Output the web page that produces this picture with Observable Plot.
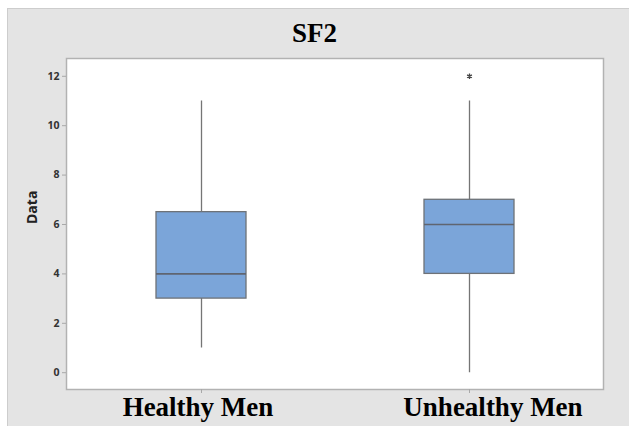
<!DOCTYPE html>
<html>
<head>
<meta charset="utf-8">
<script src="https://cdn.jsdelivr.net/npm/d3@7"></script>
<script src="https://cdn.jsdelivr.net/npm/@observablehq/plot@0.6"></script>
<style>
  html, body { margin: 0; padding: 0; background: #ffffff; }
  #page { position: relative; width: 629px; height: 426px; overflow: hidden; background: #ffffff; }
  #panel { position: absolute; left: 7px; top: 8px; width: 622px; height: 418px; background: #e4e4e4;
           border-top: 1.5px solid #cdcdcd; border-left: 1.5px solid #cdcdcd; box-sizing: border-box; }
  #title { position: absolute; left: 0; top: 20px; width: 629px; text-align: center;
           font-family: "Liberation Serif", "Times New Roman", serif; font-weight: bold; font-size: 27px; line-height: 27px; color: #000; }
  .xlab { position: absolute; top: 394px; width: 240px; text-align: center; white-space: nowrap;
          font-family: "Liberation Serif", "Times New Roman", serif; font-weight: bold; font-size: 27px; line-height: 27px; color: #000; }
  #chart { position: absolute; left: 0; top: 0; }
</style>
</head>
<body>
<div id="page">
  <div id="panel"></div>
  <div id="chart"></div>
  <div id="title"></div>
</div>
<script>
// ---- data ----
const title = "SF2";
const groups = ["Healthy Men", "Unhealthy Men"];
const whiskerLow = [1, 0];
const q1 = [3, 4];
const median = [4, 6];
const q3 = [6.5, 7];
const whiskerHigh = [11, 11];
const outlierGroup = ["Unhealthy Men"];
const outlierValue = [12];
const yTicks = [0, 2, 4, 6, 8, 10, 12];
const yLabel = "Data";
const labelCenters = [198, 493]; // label placement (layout)

const boxes = groups.map((g, i) => ({
  group: g, lo: whiskerLow[i], q1: q1[i], med: median[i], q3: q3[i], hi: whiskerHigh[i]
}));
const outliers = outlierGroup.map((g, i) => ({group: g, value: outlierValue[i]}));

const W = 629, H = 426;
const chart = Plot.plot({
  width: W,
  height: H,
  marginLeft: 66,
  marginRight: 26,
  marginTop: 58,
  marginBottom: 37,
  style: {background: "transparent", overflow: "visible"},
  x: {type: "band", domain: groups, paddingInner: 0.665, paddingOuter: 0.333},
  y: {domain: [-0.68, 12.72]},
  marks: [
    Plot.frame({fill: "#ffffff", stroke: "#b2b2b2", strokeWidth: 1.5}),
    Plot.axisY({ticks: yTicks, tickSize: 4, tickPadding: 3, stroke: "#a8a8a8",
                fontSize: 10.5, fontFamily: "'Open Sans', 'DejaVu Sans', sans-serif", fontWeight: "bold",
                color: "#333", label: null}),
    Plot.axisX({tickSize: 4, stroke: "#a8a8a8", tickFormat: () => "", label: null}),
    Plot.text([yLabel], {frameAnchor: "left", rotate: -90, dx: -34, fontSize: 14,
                fontWeight: "bold", fontFamily: "'Open Sans', 'DejaVu Sans', sans-serif", fill: "#222"}),
    Plot.ruleX(boxes, {x: "group", y1: "lo", y2: "hi", stroke: "#757575", strokeWidth: 1.3}),
    Plot.barY(boxes, {x: "group", y1: "q1", y2: "q3", fill: "#7ba5d9", stroke: "#6e7277", strokeWidth: 1.3, insetLeft: 0, insetRight: 0}),
    Plot.tickY(boxes, {x: "group", y: "med", stroke: "#5f6570", strokeWidth: 1.6}),
    Plot.dot(outliers, {x: "group", y: "value", symbol: "asterisk", r: 2.6, stroke: "#444", strokeWidth: 1.3})
  ]
});
document.getElementById("chart").appendChild(chart);
document.getElementById("title").textContent = title;

const page = document.getElementById("page");
groups.forEach((g, i) => {
  const d = document.createElement("div");
  d.className = "xlab";
  d.textContent = g;
  d.style.left = (labelCenters[i] - 120) + "px";
  page.appendChild(d);
});
</script>
</body>
</html>
